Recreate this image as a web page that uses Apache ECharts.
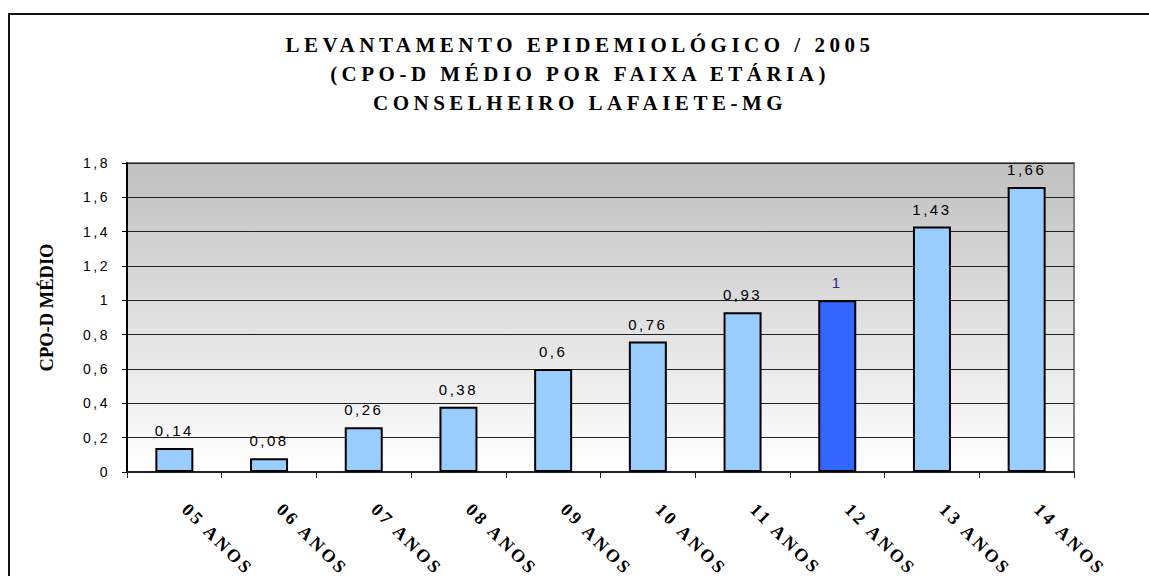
<!DOCTYPE html>
<html>
<head>
<meta charset="utf-8">
<script src="https://cdn.jsdelivr.net/npm/echarts@6/dist/echarts.min.js"></script>
<style>
html,body{margin:0;padding:0;background:#fff;}
#chart{width:1149px;height:576px;}
#chart text[style*="21px"]{letter-spacing:4.5px;}
#chart text[style*="18px"]{letter-spacing:3px;}
#chart text[style*="15px"]{letter-spacing:2.5px;}
#chart text[style*="14px"]{letter-spacing:2.5px;}
</style>
</head>
<body>
<div id="chart"></div>
<script>
const titleLines = ['LEVANTAMENTO EPIDEMIOLÓGICO / 2005', '(CPO-D MÉDIO POR FAIXA ETÁRIA)', 'CONSELHEIRO LAFAIETE-MG'];
const yAxisName = 'CPO-D MÉDIO';
const categories = ['05 ANOS', '06 ANOS', '07 ANOS', '08 ANOS', '09 ANOS', '10 ANOS', '11 ANOS', '12 ANOS', '13 ANOS', '14 ANOS'];
const values = [0.14, 0.08, 0.26, 0.38, 0.6, 0.76, 0.93, 1, 1.43, 1.66];
const highlightCategory = '12 ANOS';

const fmt = v => String(+(+v).toFixed(2)).replace('.', ',');

const chart = echarts.init(document.getElementById('chart'), null, {renderer: 'svg'});
const seriesData = values.map((v, i) => {
  const hi = categories[i] === highlightCategory;
  return {
    value: v,
    itemStyle: {color: hi ? '#3366ff' : '#99ccff'},
    label: {color: hi ? '#2a2a96' : '#000000'}
  };
});

chart.setOption({
  backgroundColor: '#ffffff',
  animation: false,
  title: {
    text: titleLines.join('\n'),
    left: 580,
    top: 30,
    textAlign: 'center',
    padding: 0,
    textStyle: {
      fontFamily: 'Liberation Serif',
      fontWeight: 'bold',
      fontSize: 21,
      lineHeight: 29,
      color: '#000'
    }
  },
  graphic: [{
    type: 'rect',
    shape: {x: 9, y: 14, width: 1300, height: 800},
    style: {fill: 'none', stroke: '#111', lineWidth: 2},
    silent: true,
    z: -1
  }],
  grid: {
    left: 127, right: 75, top: 163, bottom: 104,
    show: true,
    borderColor: '#808080',
    borderWidth: 2,
    backgroundColor: new echarts.graphic.LinearGradient(0, 0, 0, 1, [
      {offset: 0, color: '#c0c0c0'},
      {offset: 1, color: '#ffffff'}
    ])
  },
  xAxis: {
    type: 'category',
    data: categories,
    boundaryGap: true,
    axisLine: {lineStyle: {color: '#222', width: 2}},
    axisTick: {show: true, length: 6, alignWithLabel: false, lineStyle: {color: '#222', width: 1}},
    axisLabel: {
      interval: 0,
      rotate: -45,
      margin: 24,
      padding: [0, 0, 0, 15],
      fontFamily: 'Liberation Serif',
      fontWeight: 'bold',
      fontSize: 18,
      color: '#000'
    }
  },
  yAxis: {
    type: 'value',
    min: 0,
    max: 1.8,
    interval: 0.2,
    name: yAxisName,
    nameLocation: 'middle',
    nameGap: 71,
    nameRotate: 90,
    nameTextStyle: {
      fontFamily: 'Liberation Serif',
      fontWeight: 'bold',
      fontSize: 18.5,
      color: '#000',
      padding: [0, 0, 0, 20]
    },
    axisLine: {show: true, lineStyle: {color: '#000', width: 2}},
    axisTick: {show: true, length: 5, lineStyle: {color: '#000'}},
    axisLabel: {
      margin: 17,
      fontFamily: 'Liberation Sans',
      fontSize: 14,
      color: '#000',
      formatter: fmt
    },
    splitLine: {show: true, lineStyle: {color: '#222', width: 1}}
  },
  series: [{
    type: 'bar',
    data: seriesData,
    barWidth: 38,
    itemStyle: {borderColor: '#000', borderWidth: 2},
    label: {
      show: true,
      position: 'top',
      distance: 10,
      fontFamily: 'Liberation Sans',
      fontSize: 15,
      formatter: p => fmt(p.value)
    }
  }]
});
</script>
</body>
</html>
